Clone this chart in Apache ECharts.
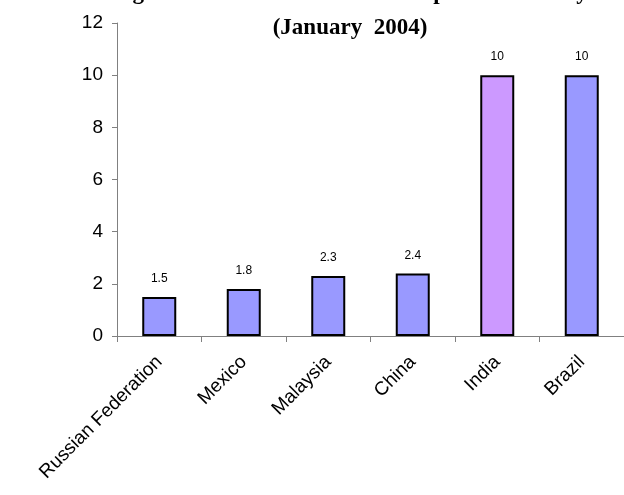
<!DOCTYPE html>
<html>
<head>
<meta charset="utf-8">
<script src="https://cdn.jsdelivr.net/npm/echarts@6/dist/echarts.min.js"></script>
<style>
  html, body { margin: 0; padding: 0; background: #fff; }
  #chartBox { width: 624px; height: 495px; }
</style>
</head>
<body>
<div id="chartBox"></div>
<script>
var countries = ["Russian Federation", "Mexico", "Malaysia", "China", "India", "Brazil"];
var values = [1.5, 1.8, 2.3, 2.4, 10, 10];
var barColors = ["#9999FF", "#9999FF", "#9999FF", "#9999FF", "#CC99FF", "#9999FF"];
var yTicks = [0, 2, 4, 6, 8, 10, 12];

var myChart = echarts.init(document.getElementById("chartBox"));

var titleFont = { fontFamily: "Liberation Serif", fontWeight: "bold", fontSize: 23, color: "#000" };

var option = {
  animation: false,
  title: [
    {
      // first title line is cut off by the top edge in the original
      text: "Figure 4: Time in months to complete the survey",
      left: 345,
      textAlign: "center",
      top: -23,
      textStyle: titleFont
    },
    {
      text: "(January  2004)",
      left: 345,
      textAlign: "center",
      top: 12,
      textStyle: titleFont
    }
  ],
  grid: { left: 117, top: 23, width: 516, bottom: 159, containLabel: false },
  xAxis: {
    type: "category",
    data: countries,
    axisLine: { lineStyle: { color: "#808080", width: 1 } },
    axisTick: { show: true, length: 6, lineStyle: { color: "#808080" } },
    axisLabel: {
      rotate: 45,
      margin: 23,
      interval: 0,
      color: "#000",
      fontFamily: "Liberation Sans",
      fontSize: 19
    }
  },
  yAxis: {
    type: "value",
    min: 0,
    max: 12,
    interval: 2,
    splitLine: { show: false },
    axisLine: { show: true, lineStyle: { color: "#808080", width: 1 } },
    axisTick: { show: true, length: 5, lineStyle: { color: "#808080" } },
    axisLabel: {
      color: "#000",
      fontFamily: "Liberation Sans",
      fontSize: 19,
      margin: 14,
      formatter: function (v) { return yTicks.indexOf(v) >= 0 ? String(v) : ""; }
    }
  },
  series: [
    {
      type: "bar",
      barWidth: 34,
      data: values.map(function (v, i) {
        return { value: v, itemStyle: { color: barColors[i] } };
      }),
      itemStyle: { borderColor: "#000", borderWidth: 2 },
      label: {
        show: true,
        position: "top",
        distance: 12,
        color: "#000",
        fontFamily: "Liberation Sans",
        fontSize: 12
      }
    }
  ]
};

myChart.setOption(option);
</script>
</body>
</html>
